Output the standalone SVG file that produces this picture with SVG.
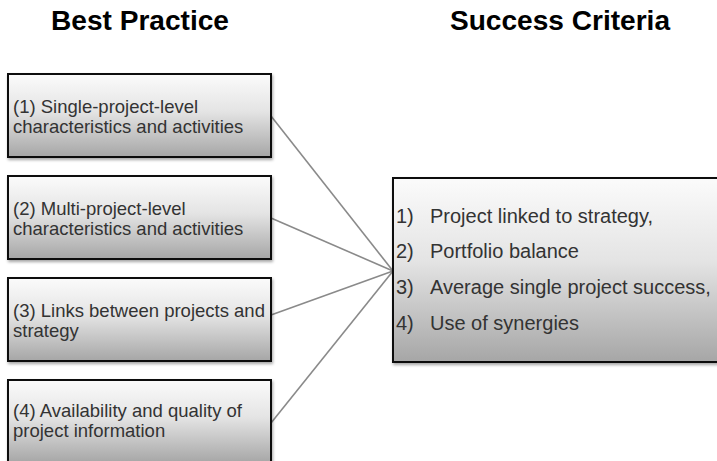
<svg xmlns="http://www.w3.org/2000/svg" width="717" height="461" viewBox="0 0 717 461">
<defs>
<linearGradient id="g" x1="0" y1="0" x2="0" y2="1">
<stop offset="0" stop-color="#fbfbfb"/>
<stop offset="0.45" stop-color="#e4e4e4"/>
<stop offset="1" stop-color="#a6a6a6"/>
</linearGradient>
<filter id="sh" x="-5%" y="-5%" width="115%" height="120%">
<feDropShadow dx="1" dy="2" stdDeviation="1.5" flood-color="#000" flood-opacity="0.35"/>
</filter>
<style>
.box{fill:url(#g);stroke:#111;stroke-width:2;filter:url(#sh)}
.title{font-family:"Liberation Sans",Arial,sans-serif;font-weight:bold;font-size:27px;fill:#000}
.t{font-family:"Liberation Sans",Arial,sans-serif;font-size:18.5px;fill:#333}
.r{font-family:"Liberation Sans",Arial,sans-serif;font-size:20px;fill:#333}
.c{stroke:#8a8a8a;stroke-width:1.6;fill:none}
</style>
</defs>
<rect width="717" height="461" fill="#fff"/>
<text class="title" x="140" y="30" text-anchor="middle" textLength="178" lengthAdjust="spacingAndGlyphs">Best Practice</text>
<text class="title" x="560" y="30" text-anchor="middle" textLength="220" lengthAdjust="spacingAndGlyphs">Success Criteria</text>
<g id="connectors">
<line class="c" x1="271" y1="116" x2="393" y2="271"/>
<line class="c" x1="271" y1="218" x2="393" y2="271"/>
<line class="c" x1="271" y1="315" x2="393" y2="271"/>
<line class="c" x1="271" y1="423" x2="393" y2="271"/>
</g>
<g id="bp1">
<rect class="box" x="8" y="74" width="263" height="83"/>
<text class="t" x="13" y="113">(1) Single-project-level</text>
<text class="t" x="13" y="133">characteristics and activities</text>
</g>
<g id="bp2">
<rect class="box" x="8" y="176" width="263" height="83"/>
<text class="t" x="13" y="215">(2) Multi-project-level</text>
<text class="t" x="13" y="235">characteristics and activities</text>
</g>
<g id="bp3">
<rect class="box" x="8" y="278" width="263" height="83"/>
<text class="t" x="13" y="317">(3) Links between projects and</text>
<text class="t" x="13" y="337">strategy</text>
</g>
<g id="bp4">
<rect class="box" x="8" y="380" width="263" height="83"/>
<text class="t" x="13" y="417">(4) Availability and quality of</text>
<text class="t" x="13" y="437">project information</text>
</g>
<g id="sc">
<rect class="box" x="393" y="178" width="340" height="184"/>
<text class="r" x="396" y="223">1)</text><text class="r" x="430" y="223">Project linked to strategy,</text>
<text class="r" x="396" y="258">2)</text><text class="r" x="430" y="258">Portfolio balance</text>
<text class="r" x="396" y="294">3)</text><text class="r" x="430" y="294">Average single project success,</text>
<text class="r" x="396" y="330">4)</text><text class="r" x="430" y="330">Use of synergies</text>
</g>
</svg>
